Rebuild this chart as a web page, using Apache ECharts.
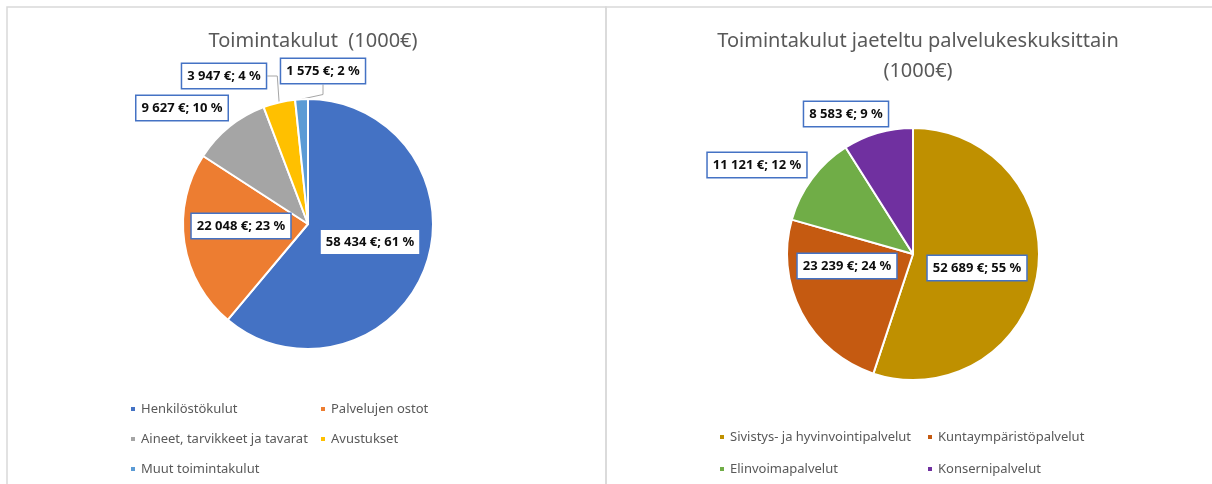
<!DOCTYPE html>
<html>
<head>
<meta charset="utf-8">
<script src="https://cdn.jsdelivr.net/npm/echarts@6/dist/echarts.min.js"></script>
<style>
  html, body { margin: 0; padding: 0; background: #fff; }
  #chart { width: 1212px; height: 484px; }
</style>
</head>
<body>
<div id="chart"></div>
<script>
// Toimintakulut (1000€)
const costCategories = ['Henkilöstökulut', 'Palvelujen ostot', 'Aineet, tarvikkeet ja tavarat', 'Avustukset', 'Muut toimintakulut']
const costValues = [58434, 22048, 9627, 3947, 1575]
const costColors = ['#4472C4', '#ED7D31', '#A5A5A5', '#FFC000', '#5B9BD5']

// Toimintakulut jaeteltu palvelukeskuksittain (1000€)
const centreCategories = ['Sivistys- ja hyvinvointipalvelut', 'Kuntaympäristöpalvelut', 'Elinvoimapalvelut', 'Konsernipalvelut']
const centreValues = [52689, 23239, 11121, 8583]
const centreColors = ['#BF9000', '#C55A11', '#70AD47', '#7030A0']

const font = 'Noto Sans'

// label box centres, relative to the pie centre (style only)
const labelOffsets = [
  [[62, 18], [-67, 2], [-126, -116], [-84, -148], [15, -153]],
  [[64, 14], [-66, 12], [-156, -89], [-67, -140]],
]
const pieCentres = [[308, 224], [913, 254]]
// which labels get a leader line
const withLine = [[false, false, false, true, true], [false, false, false, false]]

function fmt(v) {
  return String(v).replace(/\B(?=(\d{3})+(?!\d))/g, ' ')
}

function makeData(names, values, colors, si) {
  return names.map((n, i) => ({
    name: n,
    value: values[i],
    itemStyle: { color: colors[i] },
    label: { position: withLine[si][i] ? 'outside' : 'inside' },
    labelLine: { show: withLine[si][i] },
  }))
}

const labelStyle = {
  show: true,
  formatter: (p) => `${fmt(p.value)} €; ${Math.round(p.percent)} %`,
  fontFamily: font,
  fontSize: 13,
  fontWeight: 'bold',
  color: '#0d0d0d',
  backgroundColor: '#fff',
  borderColor: '#4472C4',
  borderWidth: 1.5,
  padding: [5, 5],
  lineHeight: 14,
}

function labelLayout(si) {
  return (params) => {
    const off = labelOffsets[si][params.dataIndex]
    return {
      x: pieCentres[si][0] + off[0],
      y: pieCentres[si][1] + off[1],
      align: 'center',
      verticalAlign: 'middle',
    }
  }
}

const chart = echarts.init(document.getElementById('chart'), null, { renderer: 'canvas' })

const titleStyle = { fontFamily: font, fontSize: 20, fontWeight: 'normal', color: '#595959', lineHeight: 30 }
const legendBase = {
  orient: 'vertical',
  padding: 0,
  icon: 'rect',
  itemWidth: 6,
  itemHeight: 6,
  itemGap: 14,
  textStyle: { fontFamily: font, fontSize: 13, color: '#595959', lineHeight: 16 },
}

const option = {
  backgroundColor: '#fff',
  animation: false,
  graphic: [
    { type: 'rect', silent: true, z: -1, shape: { x: 7, y: 7, width: 599, height: 520 }, style: { fill: 'none', stroke: '#d9d9d9', lineWidth: 1.5 } },
    { type: 'rect', silent: true, z: -1, shape: { x: 606, y: 7, width: 640, height: 520 }, style: { fill: 'none', stroke: '#d9d9d9', lineWidth: 1.5 } },
  ],
  title: [
    { text: 'Toimintakulut  (1000€)', left: 308, top: 21, textAlign: 'center', textStyle: titleStyle },
    { text: 'Toimintakulut jaeteltu palvelukeskuksittain\n(1000€)', left: 913, top: 21, textAlign: 'center', textStyle: titleStyle },
  ],
  legend: [
    { ...legendBase, data: [costCategories[0], costCategories[2], costCategories[4]], left: 129, top: 401 },
    { ...legendBase, data: [costCategories[1], costCategories[3]], left: 319, top: 401 },
    { ...legendBase, data: [centreCategories[0], centreCategories[2]], left: 718, top: 429, itemGap: 16 },
    { ...legendBase, data: [centreCategories[1], centreCategories[3]], left: 926, top: 429, itemGap: 16 },
  ],
  series: [
    {
      type: 'pie',
      center: pieCentres[0],
      radius: 125,
      startAngle: 90,
      clockwise: true,
      avoidLabelOverlap: false,
      itemStyle: { borderColor: '#fff', borderWidth: 2 },
      label: labelStyle,
      labelLine: { lineStyle: { color: '#A6A6A6', width: 1 }, length: 10, length2: 10 },
      labelLayout: labelLayout(0),
      emphasis: { disabled: true },
      data: makeData(costCategories, costValues, costColors, 0),
    },
    {
      type: 'pie',
      center: pieCentres[1],
      radius: 126,
      startAngle: 90,
      clockwise: true,
      avoidLabelOverlap: false,
      itemStyle: { borderColor: '#fff', borderWidth: 2 },
      label: labelStyle,
      labelLine: { show: false },
      labelLayout: labelLayout(1),
      emphasis: { disabled: true },
      data: makeData(centreCategories, centreValues, centreColors, 1),
    },
  ],
}

chart.setOption(option)
</script>
</body>
</html>
